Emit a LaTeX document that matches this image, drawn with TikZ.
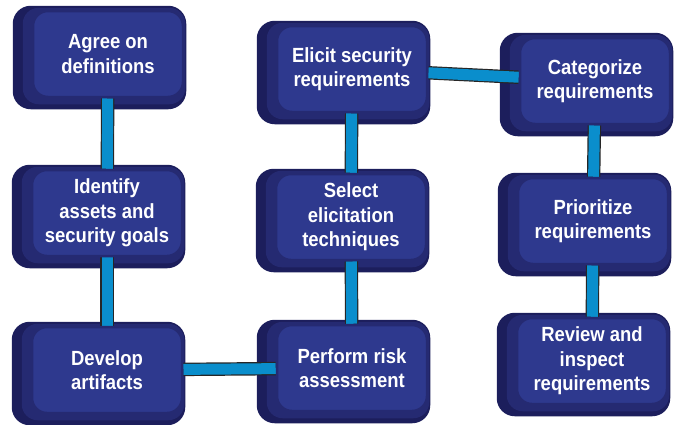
\documentclass[tikz,border=0pt]{standalone}
\usepackage{fontspec}
\setmainfont[FakeStretch=0.9]{Liberation Sans}
\usetikzlibrary{backgrounds}
\pgfdeclarelayer{bars}
\pgfsetlayers{background,bars,main}

\definecolor{facebl}{RGB}{46,57,142}
\definecolor{rimbl}{RGB}{37,42,114}
\definecolor{sidebl}{RGB}{28,30,92}
\definecolor{barcy}{RGB}{10,142,204}

\tikzset{
  stepbox/.style={rounded corners=15pt, fill=facebl, draw=rimbl, line width=2.5pt,
    minimum width=150pt, minimum height=86pt, inner sep=0pt, align=center,
    text=white, font=\bfseries\fontsize{20.5}{24.5}\selectfont},
  bar/.style={draw=black!85, line width=1.2pt, double=barcy, double distance=11pt}
}

\begin{document}
\begin{tikzpicture}[x=1pt,y=-1pt]
\useasboundingbox (0,0) rectangle (676,424);
% first column
\node[stepbox] (agree)    at (108,54)  {Agree on\\definitions};
\node[stepbox] (identify) at (107,213) {Identify\\assets and\\security goals};
\node[stepbox] (develop)  at (107,370) {Develop\\artifacts};
% second column
\node[stepbox] (elicit)   at (352,69)  {Elicit security\\requirements};
\node[stepbox] (select)   at (351,217) {Select\\elicitation\\techniques};
\node[stepbox] (perform)  at (352,368) {Perform risk\\assessment};
% third column
\node[stepbox] (categ)    at (595,81)  {Categorize\\requirements};
\node[stepbox] (prior)    at (593,221) {Prioritize\\requirements};
\node[stepbox] (review)   at (592,361) {Review and\\inspect\\requirements};

% dark sides of the boxes
\begin{pgfonlayer}{background}
\foreach \n in {agree,identify,develop,elicit,select,perform,categ,prior,review}{
  \fill[sidebl, rounded corners=18pt] ([xshift=-19pt,yshift=4pt]\n.north west) rectangle ([xshift=2pt,yshift=-11pt]\n.south east);
  \fill[rimbl, rounded corners=16pt] ([xshift=-9pt,yshift=2pt]\n.north west) rectangle ([xshift=1pt,yshift=-6pt]\n.south east);
}
\end{pgfonlayer}

% connecting bars
\begin{pgfonlayer}{bars}
\draw[bar] (agree) -- (identify);
\draw[bar] (identify) -- (develop);
\draw[bar] (develop) -- (perform);
\draw[bar] (perform) -- (select);
\draw[bar] (select) -- (elicit);
\draw[bar] (elicit) -- (categ);
\draw[bar] (categ) -- (prior);
\draw[bar] (prior) -- (review);
\end{pgfonlayer}
\end{tikzpicture}
\end{document}
